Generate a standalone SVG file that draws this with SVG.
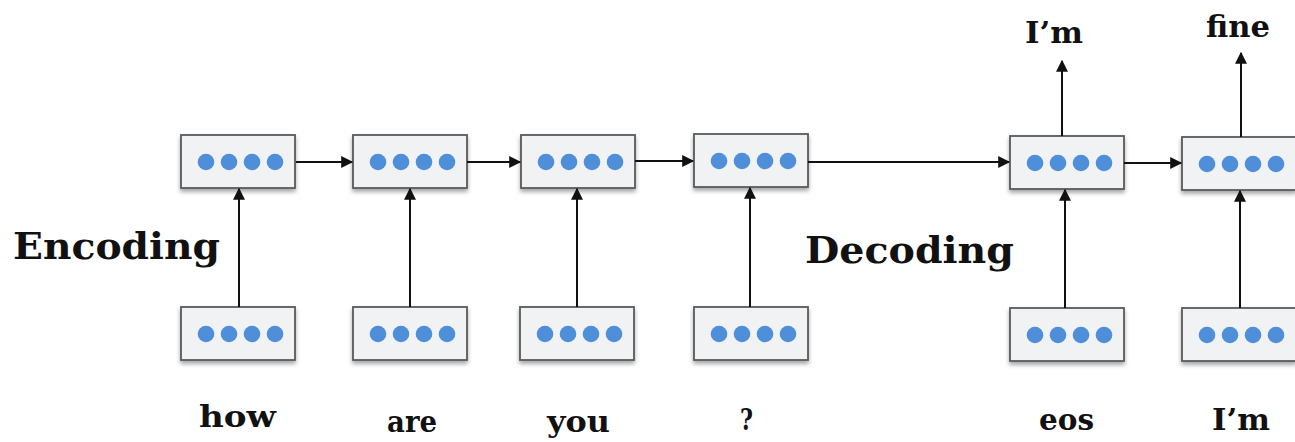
<svg xmlns="http://www.w3.org/2000/svg" width="1295" height="442" viewBox="0 0 1295 442">
<defs>
<filter id="sh" x="-10%" y="-20%" width="120%" height="150%">
<feDropShadow dx="0" dy="3" stdDeviation="2" flood-color="#000" flood-opacity="0.35"/>
</filter>
<marker id="ah" viewBox="0 0 10 10" refX="9" refY="5" markerWidth="17" markerHeight="12" markerUnits="userSpaceOnUse" orient="auto">
<path d="M0,0 L10,5 L0,10 Z" fill="#111"/>
</marker>
<g id="cell">
<rect x="0" y="0" width="114" height="53" fill="#f1f2f4" stroke="#5a5a5a" stroke-width="1.8" filter="url(#sh)"/>
<circle cx="25" cy="27" r="8.3" fill="#4f8fd9"/>
<circle cx="48" cy="27" r="8.3" fill="#4f8fd9"/>
<circle cx="71" cy="27" r="8.3" fill="#4f8fd9"/>
<circle cx="94" cy="27" r="8.3" fill="#4f8fd9"/>
</g>
</defs>
<style>
.lbl{font-family:"DejaVu Serif","Liberation Serif",serif;font-weight:bold;fill:#111;}
.big{font-size:37px;}
.sm{font-size:30px;}
.conn line{stroke:#111;stroke-width:2;marker-end:url(#ah);}
</style>
<rect width="1295" height="442" fill="#fff"/>

<g id="enc1"><use href="#cell" x="181" y="135"/></g>
<g id="enc2"><use href="#cell" x="353" y="135"/></g>
<g id="enc3"><use href="#cell" x="521" y="135"/></g>
<g id="enc4"><use href="#cell" x="694" y="134"/></g>
<g id="dec1"><use href="#cell" x="1010" y="136"/></g>
<g id="dec2"><use href="#cell" x="1182" y="137"/></g>

<g id="in1"><use href="#cell" x="181" y="307"/></g>
<g id="in2"><use href="#cell" x="353" y="307"/></g>
<g id="in3"><use href="#cell" x="520" y="307"/></g>
<g id="in4"><use href="#cell" x="694" y="307"/></g>
<g id="in5"><use href="#cell" x="1010" y="308"/></g>
<g id="in6"><use href="#cell" x="1182" y="308"/></g>

<g id="connectors" class="conn">
<line x1="296" y1="162" x2="352" y2="162"/>
<line x1="467" y1="162" x2="520" y2="162"/>
<line x1="635" y1="161" x2="693" y2="161"/>
<line x1="808" y1="162" x2="1009" y2="162"/>
<line x1="1124" y1="163" x2="1181" y2="163"/>
<line x1="239" y1="307" x2="239" y2="189"/>
<line x1="410" y1="307" x2="410" y2="189"/>
<line x1="577" y1="307" x2="577" y2="189"/>
<line x1="750" y1="307" x2="750" y2="188"/>
<line x1="1065" y1="308" x2="1065" y2="190"/>
<line x1="1240" y1="308" x2="1240" y2="191"/>
<line x1="1062" y1="136" x2="1062" y2="61"/>
<line x1="1241" y1="137" x2="1241" y2="53"/>
</g>

<g id="labels">
<text class="lbl big" x="13" y="259" textLength="207" lengthAdjust="spacingAndGlyphs">Encoding</text>
<text class="lbl big" x="805" y="263" textLength="209" lengthAdjust="spacingAndGlyphs">Decoding</text>
<text class="lbl sm" x="199" y="427" textLength="77" lengthAdjust="spacingAndGlyphs">how</text>
<text class="lbl sm" x="387" y="432" textLength="50" lengthAdjust="spacingAndGlyphs">are</text>
<text class="lbl sm" x="547" y="432" textLength="63" lengthAdjust="spacingAndGlyphs">you</text>
<text class="lbl sm" x="740" y="430" textLength="13" lengthAdjust="spacingAndGlyphs">?</text>
<text class="lbl sm" x="1039" y="430" textLength="55" lengthAdjust="spacingAndGlyphs">eos</text>
<text class="lbl sm" x="1212" y="430" textLength="58" lengthAdjust="spacingAndGlyphs">I’m</text>
<text class="lbl sm" x="1025" y="43" textLength="58" lengthAdjust="spacingAndGlyphs">I’m</text>
<text class="lbl sm" x="1206" y="37" textLength="64" lengthAdjust="spacingAndGlyphs">fine</text>
</g>
</svg>
